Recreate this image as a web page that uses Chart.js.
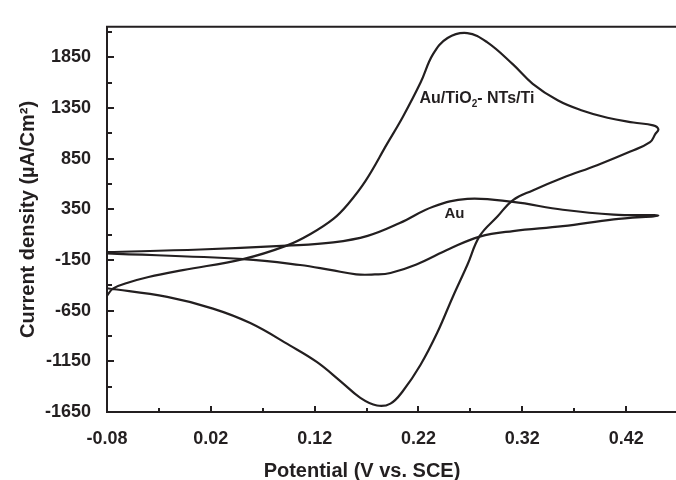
<!DOCTYPE html>
<html>
<head>
<meta charset="utf-8">
<script src="https://cdn.jsdelivr.net/npm/chart.js@4.4.1/dist/chart.umd.min.js"></script>
<style>
  body{margin:0;background:#fff}
  #wrap{width:676px;height:480px;position:relative}
</style>
</head>
<body>
<div id="wrap"><canvas id="chart"></canvas></div>
<script>
// Au/TiO2-NTs/Ti : anodic sweep then cathodic sweep (V, uA/cm2)
const tiForwardV = [-0.080,-0.074,-0.060,-0.040,-0.007,0.051,0.093,0.116,0.138,0.152,0.169,0.190,0.205,0.222,0.234,0.248,0.267,0.286,0.311,0.330,0.354,0.376,0.402,0.427,0.446,0.451];
const tiForwardI = [-503,-430,-375,-318,-250,-142,-9,106,255,400,630,1000,1263,1600,1880,2040,2088,1999,1779,1588,1425,1330,1253,1206,1177,1139];
const tiReverseV = [0.448,0.443,0.424,0.392,0.359,0.330,0.311,0.296,0.279,0.267,0.253,0.238,0.222,0.205,0.193,0.180,0.164,0.145,0.122,0.096,0.058,0.022,-0.022,-0.080];
const tiReverseI = [1091,1012,919,785,661,536,441,278,87,-200,-515,-869,-1184,-1443,-1567,-1586,-1510,-1347,-1156,-993,-773,-630,-515,-429];

// bare Au electrode
const auForwardV = [-0.080,0.010,0.093,0.138,0.171,0.202,0.234,0.267,0.311,0.359,0.408,0.451];
const auForwardI = [-73,-47,-9,23,87,214,374,453,422,345,297,288];
const auReverseV = [0.408,0.359,0.311,0.279,0.250,0.218,0.193,0.178,0.160,0.135,0.106,0.051,-0.080];
const auReverseI = [250,183,135,80,-40,-195,-279,-293,-292,-248,-200,-142,-85];

const xTickLabels = ["-0.08","0.02","0.12","0.22","0.32","0.42"];
const yTickLabels = ["-1650","-1150","-650","-150","350","850","1350","1850"];

// curve labels, anchored in data units
const noteText = ["Au/TiO|2|- NTs/Ti", "Au"];
const notePotential = [0.221, 0.245];
const noteCurrent = [1397, 259];

const ink = "#231f20";
const FONT = '"Liberation Sans", Arial, Helvetica, sans-serif';

function pts(vs, is){ return vs.map((v,i)=>({x:v, y:is[i]})); }

function drawRich(ctx, str, x, y, size){
  // "a|b|c" -> b drawn as subscript
  const parts = str.split("|");
  ctx.textAlign = "left";
  parts.forEach((p,i)=>{
    const sub = i%2===1;
    ctx.font = "bold "+(sub? Math.round(size*0.65) : size)+"px "+FONT;
    ctx.fillText(p, x, sub ? y+size*0.25 : y);
    x += ctx.measureText(p).width;
  });
}

const framePlugin = {
  id:"frame",
  afterDraw(chart){
    const {ctx, chartArea:a, scales:{x, y}} = chart;
    ctx.save();
    ctx.strokeStyle = ink;
    ctx.lineWidth = 2;
    ctx.beginPath();
    ctx.moveTo(a.left-1, a.top); ctx.lineTo(a.right, a.top);

    // inward tick marks, long at labels, short half-way
    yTickLabels.forEach(t=>{
      const v = Number(t);
      [[v,7],[v+250,5]].forEach(([val,len])=>{
        if(val > y.max) return;
        const py = Math.round(y.getPixelForValue(val));
        ctx.moveTo(a.left, py); ctx.lineTo(a.left+len, py);
      });
    });
    xTickLabels.forEach(t=>{
      const v = Number(t);
      [[v,6],[v+0.05,4]].forEach(([val,len])=>{
        if(val > x.max || val <= x.min) return;
        const px = Math.round(x.getPixelForValue(val));
        ctx.moveTo(px, a.bottom); ctx.lineTo(px, a.bottom-len);
      });
    });
    ctx.stroke();

    ctx.fillStyle = ink;
    ctx.textBaseline = "alphabetic";
    ctx.font = "bold 20px "+FONT;
    ctx.textAlign = "center";
    ctx.fillText("Potential (V vs. SCE)", a.left+255, 477);

    ctx.save();
    ctx.translate(34, (a.top+a.bottom)/2);
    ctx.rotate(-Math.PI/2);
    ctx.fillText("Current density (\u00b5A/Cm\u00b2)", 0, 0);
    ctx.restore();

    noteText.forEach((t,i)=>{
      drawRich(ctx, t, x.getPixelForValue(notePotential[i]), y.getPixelForValue(noteCurrent[i]), i===0 ? 16 : 15);
    });
    ctx.restore();
  }
};

const line = {showLine:true, borderColor:ink, borderWidth:2.2, pointRadius:0, tension:0.4, fill:false};

new Chart(document.getElementById("chart"), {
  type:"scatter",
  data:{ datasets:[
    Object.assign({label:"Au/TiO2-NTs/Ti", data:pts(tiForwardV.concat(tiReverseV), tiForwardI.concat(tiReverseI))}, line),
    Object.assign({label:"Au", data:pts(auForwardV.concat(auReverseV), auForwardI.concat(auReverseI))}, line)
  ]},
  options:{
    responsive:true,
    maintainAspectRatio:false,
    animation:false,
    layout:{ padding:{top:14, right:0, left:0, bottom:0} },
    plugins:{ legend:{display:false}, tooltip:{enabled:false} },
    scales:{
      x:{
        type:"linear", min:-0.08, max:0.468,
        grid:{display:false, drawTicks:false},
        border:{display:true, color:ink, width:2},
        afterBuildTicks: s => { s.ticks = xTickLabels.map(t=>({value:Number(t)})); },
        afterFit: s => { s.height = 68; },
        ticks:{ autoSkip:false, maxRotation:0, padding:16, color:ink,
          font:{family:FONT, size:18, weight:"bold"},
          callback:(v,i)=>xTickLabels[i] }
      },
      y:{
        type:"linear", min:-1650, max:2150,
        grid:{display:false, drawTicks:false},
        border:{display:true, color:ink, width:2},
        afterBuildTicks: s => { s.ticks = yTickLabels.map(t=>({value:Number(t)})); },
        afterFit: s => { s.width = 107; },
        ticks:{ autoSkip:false, padding:16, color:ink,
          font:{family:FONT, size:18, weight:"bold"},
          callback:(v,i)=>yTickLabels[i] }
      }
    }
  },
  plugins:[framePlugin]
});
</script>
</body>
</html>
